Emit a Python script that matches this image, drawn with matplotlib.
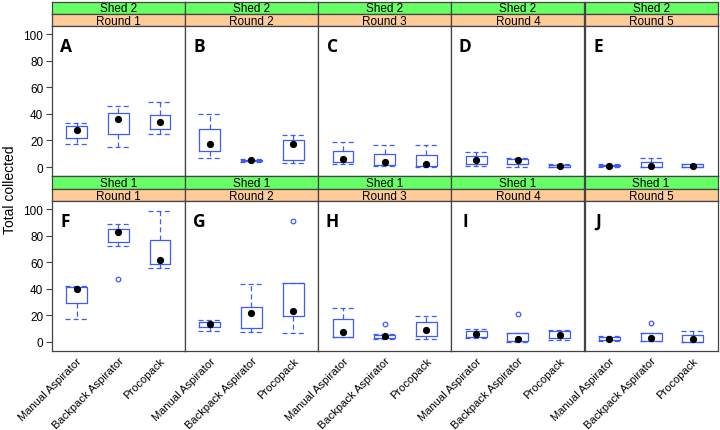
import matplotlib
matplotlib.use("Agg")
import matplotlib.pyplot as plt

plt.rcParams['font.family'] = ['Liberation Sans', 'DejaVu Sans']

methods = ["Manual Aspirator", "Backpack Aspirator", "Procopack"]
rounds = ["Round 1", "Round 2", "Round 3", "Round 4", "Round 5"]
sheds = ["Shed 2", "Shed 1"]
letters = [["A", "B", "C", "D", "E"], ["F", "G", "H", "I", "J"]]

# stats per panel: (whislo, q1, med, q3, whishi) for each method
shed2_stats = [
    [(17, 22, 28, 31, 33), (15, 25, 36, 41, 46), (25, 29, 34, 39, 49)],
    [(7, 12, 17, 29, 40), (4, 4.3, 5, 5.5, 6), (3, 5.5, 17.5, 20, 24)],
    [(2.5, 4, 6, 12, 19), (1, 1.5, 3.5, 10, 16.5), (0, 0.5, 2, 9, 16.5)],
    [(1, 2.5, 5, 8, 11), (0, 2.3, 5, 6, 7), (0, 0.3, 1, 1.5, 2)],
    [(0, 0.5, 1, 1.5, 2), (0, 0.3, 1, 4, 7), (0, 0.3, 1, 2, 2.5)],
]
shed1_stats = [
    [(17, 29, 40, 41.5, 42), (72, 75.5, 82.5, 85, 88.5), (55.5, 59, 61.5, 77, 99)],
    [(8, 11, 13.5, 15, 16.5), (7.5, 10, 21.5, 26.5, 43.5), (6.5, 19.5, 23, 44.5, 44.5)],
    [(3.5, 3.8, 7, 17, 25.5), (2, 2.5, 4.5, 5, 5.5), (1.7, 4, 8.5, 15, 19.5)],
    [(2.5, 3.5, 5.7, 7.8, 9.3), (0, 0.2, 2.3, 6.5, 6.5), (1.5, 2.7, 4.8, 7.8, 8.5)],
    [(0.5, 1, 2.3, 3.5, 4), (0.5, 0.8, 3, 6.5, 6.5), (0, 0, 2.3, 5.3, 8)],
]
shed2_outliers = [[[], [], []], [[], [], []], [[], [], []], [[], [], []], [[], [], []]]
shed1_outliers = [
    [[], [47.5], []],
    [[], [], [91.5]],
    [[], [13.5], []],
    [[], [21], []],
    [[], [14], []],
]
all_stats = [shed2_stats, shed1_stats]
all_outliers = [shed2_outliers, shed1_outliers]

yticks = [0, 20, 40, 60, 80, 100]

W, H = 720, 431
fig = plt.figure(figsize=(W / 100, H / 100), dpi=100)

blue = '#3d5cff'
green = '#66ff66'
orange = '#ffcc99'
frame = '#444444'

left0 = 51.7
pw = 133.2
rows = [(2.7, 27.3, 177.3), (177.3, 202.3, 352.0)]  # strip top, panel top, panel bottom

def fx(px):
    return px / W

def fy(py):
    return 1 - py / H

for r, (stop, ptop, pbot) in enumerate(rows):
    for c in range(5):
        x0 = left0 + c * pw
        sh = (ptop - stop) / 2
        for k, (lab, col) in enumerate([(sheds[r], green), (rounds[c], orange)]):
            y_top = stop + k * sh
            sax = fig.add_axes([fx(x0), fy(y_top + sh), pw / W, sh / H])
            sax.set_facecolor(col)
            sax.set_xticks([]); sax.set_yticks([])
            for sp in sax.spines.values():
                sp.set_color(frame); sp.set_linewidth(0.9)
            sax.text(0.5, 0.45, lab, ha='center', va='center', fontsize=8.5,
                     family='Liberation Sans', transform=sax.transAxes)
        ax = fig.add_axes([fx(x0), fy(pbot), pw / W, (pbot - ptop) / H])
        stats = []
        for m in range(3):
            lo, q1, med, q3, hi = all_stats[r][c][m]
            stats.append(dict(whislo=lo, q1=q1, med=med, q3=q3, whishi=hi,
                              fliers=all_outliers[r][c][m], label=methods[m]))
        ax.bxp(stats, positions=[1, 2, 3], widths=0.5, capwidths=0.55,
               showmeans=False,
               boxprops=dict(color=blue, linewidth=0.9),
               whiskerprops=dict(color=blue, linewidth=0.9, linestyle=(0, (4, 2.5))),
               capprops=dict(color=blue, linewidth=0.9, linestyle=(0, (4, 2.5))),
               medianprops=dict(linewidth=0),
               flierprops=dict(marker='o', markerfacecolor='none', markeredgecolor=blue,
                               markersize=3.3, markeredgewidth=0.9))
        meds = [all_stats[r][c][m][2] for m in range(3)]
        ax.plot([1, 2, 3], meds, 'o', color='black', markersize=4.2, zorder=5)
        ax.set_xlim(0.4, 3.6)
        ax.set_ylim(-7, 106)
        for sp in ax.spines.values():
            sp.set_color(frame); sp.set_linewidth(0.9)
        ax.text(0.105, 0.87, letters[r][c], transform=ax.transAxes, ha='center',
                va='center', fontsize=12.5, fontweight='bold', family='Open Sans')
        if c == 0:
            ax.set_yticks(yticks)
            ax.set_yticklabels([str(t) for t in yticks], family='Liberation Sans')
            ax.tick_params(axis='y', length=4, width=0.8, color=frame, labelsize=8.5, pad=2)
        else:
            ax.set_yticks([])
        if r == 1:
            ax.set_xticks([1, 2, 3])
            ax.set_xticklabels(methods, rotation=45, ha='right', va='top',
                               rotation_mode='anchor', fontsize=8,
                               family='Liberation Sans')
            ax.tick_params(axis='x', length=0, pad=3)
        else:
            ax.set_xticks([])

fig.text(fx(10), fy(190), "Total collected", rotation=90, ha='center', va='center',
         fontsize=10, family='Liberation Sans')

fig.savefig("out.png", dpi=100)
